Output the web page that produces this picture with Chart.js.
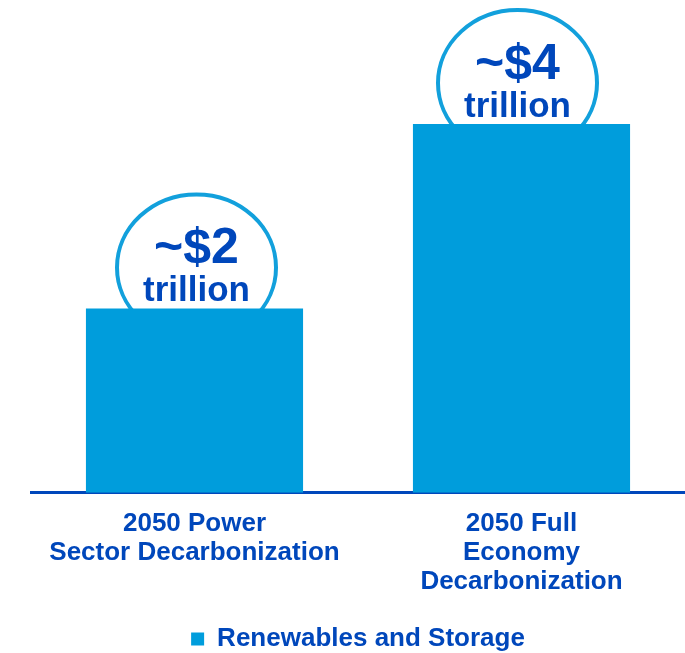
<!DOCTYPE html>
<html>
<head>
<meta charset="utf-8">
<script src="https://cdn.jsdelivr.net/npm/chart.js@4.4.1/dist/chart.umd.min.js"></script>
<style>
  html, body { margin: 0; padding: 0; background: #fff; }
  #wrap { width: 685px; height: 653px; position: relative; }
</style>
</head>
<body>
<div id="wrap"><canvas id="costChart"></canvas></div>
<script>
    const categories = [
        ['2050 Power', 'Sector Decarbonization'],
        ['2050 Full', 'Economy', 'Decarbonization'],
    ];
    const seriesName = 'Renewables and Storage';
    const values = [2, 4];
    const calloutAmounts = ['~$2', '~$4'];
    const calloutUnit = 'trillion';

    const BAR_BLUE = '#009ddc';
    const TEXT_BLUE = '#0047bb';
    const FONT = '"Liberation Sans", Arial, sans-serif';

    // white bubble sitting on top of each bar, the bar covers its lower part
    const bubbleNudge = [2, -4];
    const bubbleCentre = (bar, i) => ({ x: bar.x + bubbleNudge[i], y: bar.y - 41 });

    const bubblePlugin = {
        id: 'bubbles',
        afterLayout(chart) {
            // legend sits a bit lower than chart.js puts it
            chart.legend.top += 9;
            chart.legend.bottom += 9;
        },
        beforeDatasetsDraw(chart) {
            const meta = chart.getDatasetMeta(0);
            const ctx = chart.ctx;
            ctx.save();
            meta.data.forEach((bar, i) => {
                const c = bubbleCentre(bar, i);
                ctx.beginPath();
                ctx.ellipse(c.x, c.y, 79.5, 73, 0, 0, Math.PI * 2);
                ctx.fillStyle = '#fff';
                ctx.fill();
                ctx.lineWidth = 4;
                ctx.strokeStyle = '#12a0dc';
                ctx.stroke();
            });
            ctx.restore();
        },
        afterDatasetsDraw(chart) {
            const meta = chart.getDatasetMeta(0);
            const ctx = chart.ctx;
            ctx.save();
            ctx.fillStyle = TEXT_BLUE;
            ctx.textAlign = 'center';
            ctx.textBaseline = 'alphabetic';
            meta.data.forEach((bar, i) => {
                const c = bubbleCentre(bar, i);
                ctx.font = 'bold 50px ' + FONT;
                ctx.fillText(calloutAmounts[i], c.x, c.y - 4);
                ctx.font = 'bold 35px ' + FONT;
                ctx.fillText(calloutUnit, c.x, c.y + 34);
            });
            ctx.restore();
        },
    };

    new Chart(document.getElementById('costChart'), {
        type: 'bar',
        data: {
            labels: categories,
            datasets: [
                {
                    label: seriesName,
                    data: values,
                    backgroundColor: BAR_BLUE,
                    borderWidth: 0,
                    categoryPercentage: 1,
                    barPercentage: 0.664,
                },
            ],
        },
        options: {
            responsive: true,
            maintainAspectRatio: false,
            animation: false,
            layout: {
                padding: { top: 124, left: 31, right: 0, bottom: 0 },
            },
            plugins: {
                legend: {
                    position: 'bottom',
                    labels: {
                        boxWidth: 13,
                        boxHeight: 13,
                        padding: 4,
                        color: TEXT_BLUE,
                        font: { family: FONT, size: 26, weight: 'bold' },
                    },
                },
                tooltip: { enabled: false },
            },
            scales: {
                x: {
                    grid: { display: false, drawTicks: false },
                    border: { display: true, color: TEXT_BLUE, width: 3 },
                    ticks: {
                        color: TEXT_BLUE,
                        padding: 16,
                        maxRotation: 0,
                        font: { family: FONT, size: 26, weight: 'bold', lineHeight: 1.13 },
                    },
                },
                y: {
                    display: false,
                    min: 0,
                    max: 4,
                },
            },
        },
        plugins: [bubblePlugin],
    });
</script>
</body>
</html>
